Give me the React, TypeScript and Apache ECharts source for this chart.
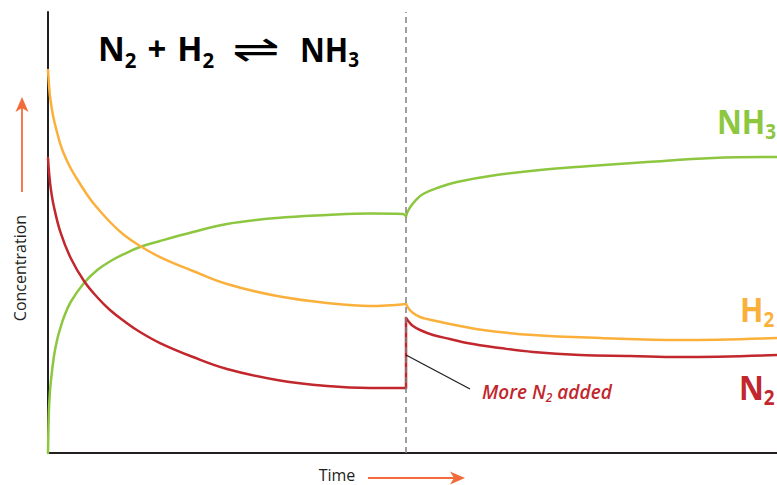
import React, { useEffect, useRef } from "react";
import * as echarts from "echarts";

// x = time (0..100), y = concentration (0..100)
const h2Before: number[][] = [
  [0, 86.85], [0.14, 83.45], [0.27, 80.95], [0.55, 77.78], [0.82, 75.51],
  [1.23, 72.79], [1.65, 70.29], [2.19, 67.8], [3.02, 64.85], [3.98, 62.13],
  [5.21, 58.96], [6.31, 56.46], [8.5, 52.38], [10.43, 49.43], [12.62, 46.94],
  [15.36, 44.44], [19.89, 41.27], [24.55, 38.32], [31.41, 35.6], [38.27, 34.01],
  [44.17, 33.33], [49.11, 33.79],
];
const h2After: number[][] = [
  [49.11, 33.79], [49.52, 32.65], [50.07, 31.75], [51.03, 30.84], [51.99, 30.39],
  [55.14, 29.25], [59.67, 27.89], [66.53, 26.76], [75.72, 26.08], [86.69, 25.62],
  [100, 26.08],
];
const n2Before: number[][] = [
  [0, 66.89], [0.14, 63.72], [0.37, 60.09], [0.82, 55.78], [1.74, 49.89],
  [3.11, 44.22], [4.94, 39.0], [6.72, 35.37], [8.5, 32.43], [10.43, 29.93],
  [12.62, 27.44], [15.36, 24.94], [19.89, 21.77], [24.55, 19.05], [31.41, 16.55],
  [38.27, 15.19], [44.17, 14.74], [49.11, 14.74],
];
const n2Jump: number[][] = [[49.11, 14.74], [49.11, 30.61]];
const n2After: number[][] = [
  [49.11, 30.61], [49.52, 29.71], [50.07, 28.8], [51.03, 27.89], [52.81, 26.76],
  [55.14, 25.85], [57.48, 24.94], [62.0, 23.81], [66.53, 22.9], [72.98, 22.22],
  [79.84, 22.0], [86.69, 21.77], [100, 22.22],
];
const nh3Before: number[][] = [
  [0, 0], [0.07, 6.35], [0.16, 10.88], [0.37, 15.87], [0.82, 22.0],
  [1.28, 25.85], [1.74, 28.57], [2.19, 30.84], [3.11, 34.24], [4.94, 38.55],
  [6.76, 41.5], [8.6, 43.54], [10.43, 45.12], [12.62, 46.71], [15.36, 48.07],
  [19.89, 50.11], [24.55, 51.93], [31.41, 53.29], [38.27, 53.97], [44.17, 54.31],
  [48.7, 54.2], [49.11, 53.74],
];
const nh3After: number[][] = [
  [49.11, 53.74], [49.38, 54.88], [49.79, 56.01], [50.34, 57.14], [51.44, 58.73],
  [53.77, 60.32], [56.1, 61.45], [60.63, 62.81], [67.49, 64.17], [74.35, 65.08],
  [82.17, 65.99], [91.22, 66.89], [100, 67.12],
];
const n2AddedAt = 49.11;
const annotationFrom = [49.11, 22.22];
const annotationTo = [57.89, 14.51];

const titleLeft = "{a|N}{s|2}{p| + }{a|H}{s|2}";
const titleArrow = "⇌";
const titleRight = "{a|NH}{s|3}";
const labelNH3 = "{a|NH}{s|3}";
const labelH2 = "{a|H}{s|2}";
const labelN2 = "{a|N}{s|2}";
const annotationText = "{a|More N}{s|2}{a| added}";
const yTitle = "Concentration";
const xTitle = "Time";

const GREEN = "#8DC63F";
const ORANGE = "#FBB03B";
const RED = "#C1272D";
const AXIS = "#231F20";
const ARROW = "#F26C3B";
const FONT = "'Open Sans', 'DejaVu Sans', sans-serif";

function bigRich(color: string) {
  return {
    a: { fontSize: 34, fontWeight: "bold", fontFamily: FONT, lineHeight: 44, fill: color },
    s: { fontSize: 21, fontWeight: "bold", fontFamily: FONT, lineHeight: 20, verticalAlign: "bottom", fill: color },
    p: { fontSize: 34, fontWeight: "bold", fontFamily: FONT, lineHeight: 44, fill: color, width: 42, align: "center" },
  };
}

function curve(data: number[][], color: string, extra: any = {}) {
  return {
    type: "line",
    data,
    smooth: 0.4,
    symbol: "none",
    silent: true,
    lineStyle: { color, width: 2.5, cap: "round", join: "round" },
    itemStyle: { color },
    z: 3,
    ...extra,
  };
}

export default function App() {
  const ref = useRef<HTMLDivElement>(null);
  useEffect(() => {
    const chart = echarts.init(ref.current!, null, { renderer: "svg" });
    chart.setOption({
      animation: false,
      backgroundColor: "#ffffff",
      grid: { left: 48, right: 0, top: 12, bottom: 32 },
      xAxis: {
        type: "value", min: 0, max: 100,
        axisLine: { show: true, onZero: false, lineStyle: { color: AXIS, width: 2 } },
        axisTick: { show: false }, axisLabel: { show: false }, splitLine: { show: false },
      },
      yAxis: {
        type: "value", min: 0, max: 100,
        axisLine: { show: true, lineStyle: { color: AXIS, width: 2 } },
        axisTick: { show: false }, axisLabel: { show: false }, splitLine: { show: false },
      },
      series: [
        curve(nh3Before, GREEN, {
          markLine: {
            silent: true, symbol: ["none", "none"], label: { show: false },
            lineStyle: { color: "#808080", type: [6, 4], width: 1.5 },
            data: [{ xAxis: n2AddedAt }],
          },
        }),
        curve(nh3After, GREEN),
        curve(h2Before, ORANGE),
        curve(h2After, ORANGE),
        curve(n2Before, RED),
        { ...curve(n2Jump, RED), smooth: false,
          markLine: {
            silent: true, symbol: ["none", "none"], label: { show: false },
            lineStyle: { color: AXIS, width: 1.3, type: "solid" },
            data: [[{ coord: annotationFrom }, { coord: annotationTo }]],
          },
        },
        curve(n2After, RED),
      ],
      graphic: [
        { type: "text", x: 98, y: 48, scaleX: 0.97, z: 10, style: { text: titleLeft, align: "left", verticalAlign: "middle", rich: bigRich("#000") } },
        { type: "text", x: 256, y: 49, scaleX: 1.5, z: 10, style: { text: titleArrow, fontSize: 38, fontFamily: "'DejaVu Sans'", fill: "#000", align: "center", verticalAlign: "middle" } },
        { type: "text", x: 300, y: 48, scaleX: 0.9, z: 10, style: { text: titleRight, align: "left", verticalAlign: "middle", rich: bigRich("#000") } },
        { type: "text", x: 717, y: 120, scaleX: 0.9, z: 10, style: { text: labelNH3, align: "left", verticalAlign: "middle", rich: bigRich(GREEN) } },
        { type: "text", x: 740, y: 308, scaleX: 0.9, z: 10, style: { text: labelH2, align: "left", verticalAlign: "middle", rich: bigRich(ORANGE) } },
        { type: "text", x: 739, y: 386, scaleX: 0.9, z: 10, style: { text: labelN2, align: "left", verticalAlign: "middle", rich: bigRich(RED) } },
        {
          type: "text", x: 482, y: 392, z: 10,
          style: {
            text: annotationText, align: "left", verticalAlign: "middle",
            rich: {
              a: { fontSize: 19, fontStyle: "italic", fontWeight: 600, fontFamily: FONT, lineHeight: 22, fill: RED },
              s: { fontSize: 12, fontStyle: "italic", fontWeight: 600, fontFamily: FONT, lineHeight: 10, verticalAlign: "bottom", fill: RED },
            },
          },
        },
        { type: "text", x: 20, y: 268, rotation: Math.PI / 2, z: 10, style: { text: yTitle, fontSize: 16, fontFamily: FONT, fill: AXIS, align: "center", verticalAlign: "middle" } },
        { type: "text", x: 337, y: 475, z: 10, style: { text: xTitle, fontSize: 16, fontFamily: FONT, fill: AXIS, align: "center", verticalAlign: "middle" } },
        { type: "line", z: 10, shape: { x1: 22, y1: 192, x2: 22, y2: 106 }, style: { stroke: ARROW, lineWidth: 1.8 } },
        { type: "polygon", z: 10, shape: { points: [[22, 97], [28.5, 112], [22, 108], [15.5, 112]] }, style: { fill: ARROW } },
        { type: "line", z: 10, shape: { x1: 368, y1: 478, x2: 456, y2: 478 }, style: { stroke: ARROW, lineWidth: 1.8 } },
        { type: "polygon", z: 10, shape: { points: [[465, 478], [450, 484.5], [454, 478], [450, 471.5]] }, style: { fill: ARROW } },
      ],
    });
    return () => chart.dispose();
  }, []);
  return (
    <div
      ref={ref}
      style={{ position: "fixed", left: 0, top: 0, width: 777, height: 485, background: "#fff" }}
    />
  );
}
